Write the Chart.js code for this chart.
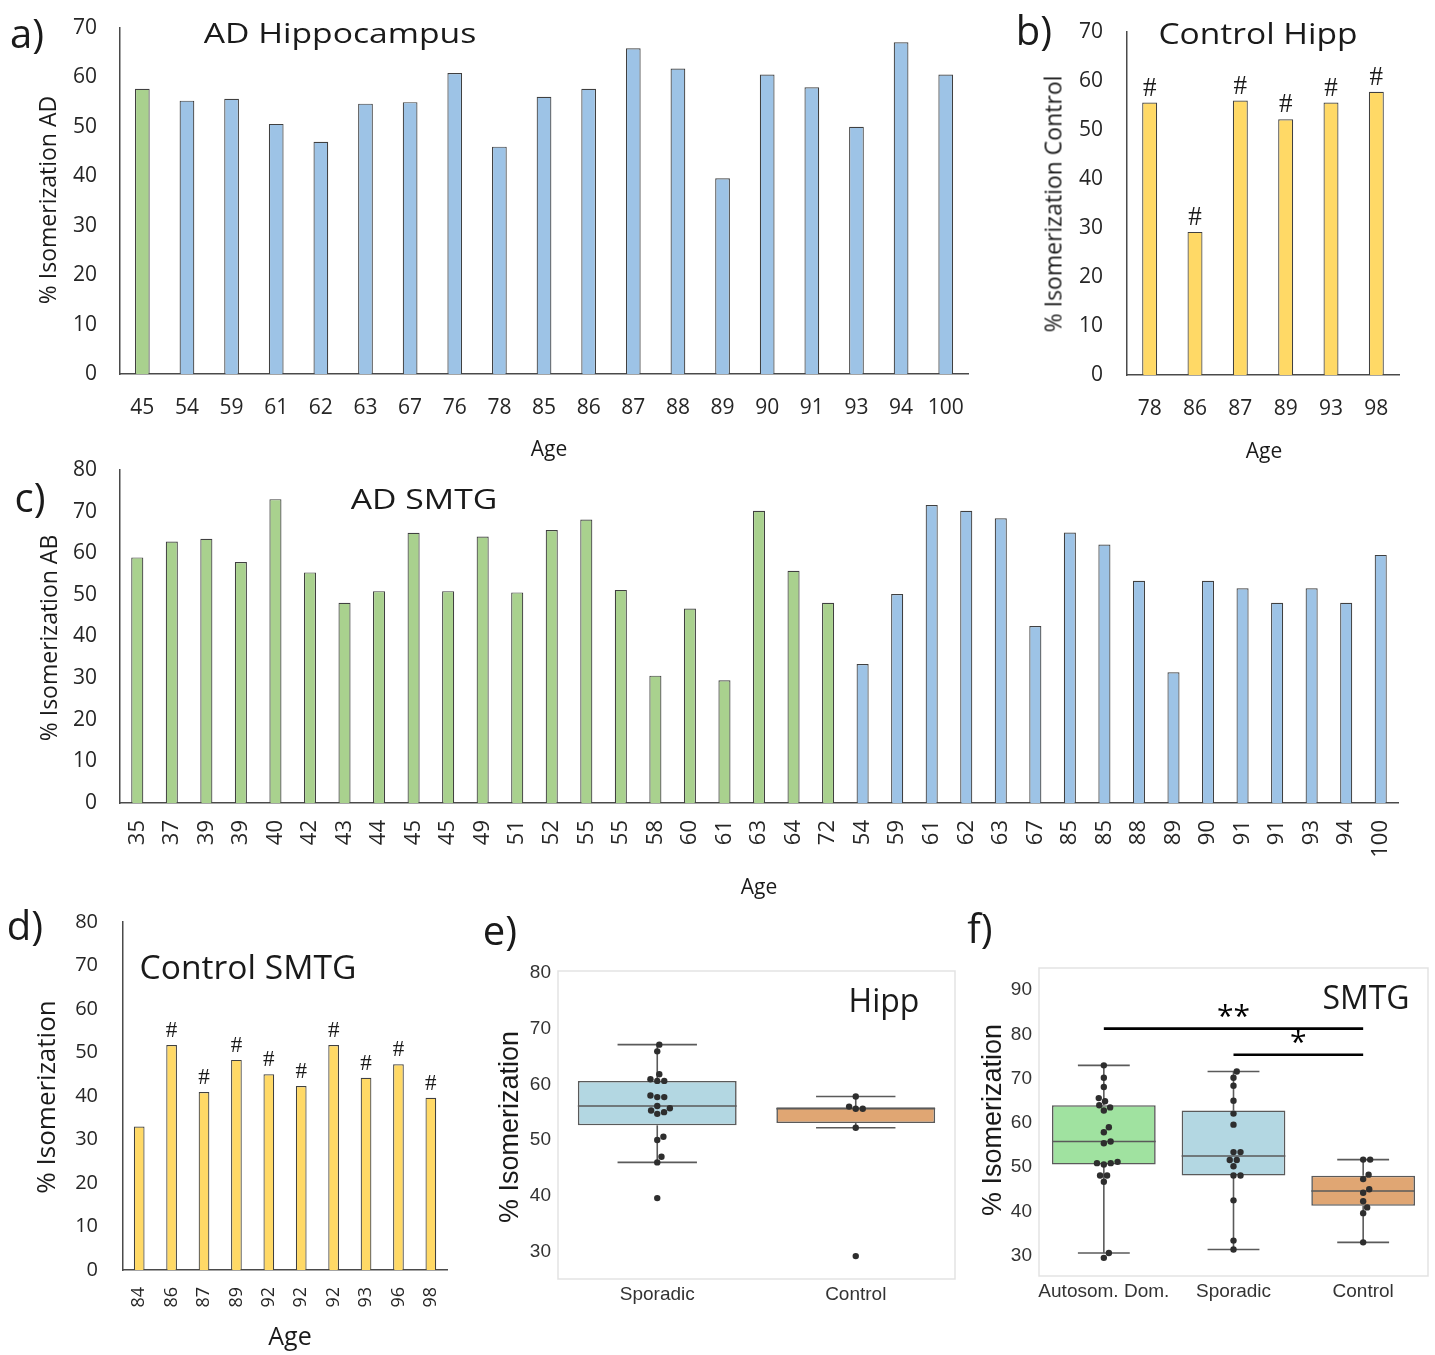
<!DOCTYPE html>
<html>
<head>
<meta charset="utf-8">
<script src="https://cdn.jsdelivr.net/npm/chart.js@4.4.1/dist/chart.umd.min.js"></script>
<style>
  body { margin: 0; background: #fff; width: 1435px; height: 1355px; position: relative; overflow: hidden; }
  canvas { position: absolute; }
  .txt { position: absolute; white-space: nowrap; line-height: 1; color: #1a1a1a; }
</style>
</head>
<body>
<canvas id="chartA" width="985" height="440" style="left:0;top:0"></canvas>
<canvas id="chartB" width="445" height="440" style="left:990px;top:0"></canvas>
<canvas id="chartC" width="1435" height="430" style="left:0;top:445px"></canvas>
<canvas id="chartD" width="470" height="420" style="left:0;top:905px"></canvas>
<canvas id="chartE" width="490" height="420" style="left:470px;top:905px"></canvas>
<canvas id="chartF" width="475" height="420" style="left:960px;top:905px"></canvas>
<script>
// a) AD hippocampus (A = autosomal dominant, S = sporadic)
const adHippAges = ["45","54","59","61","62","63","67","76","78","85","86","87","88","89","90","91","93","94","100"];
const adHippValues = [57.7,55.3,55.7,50.6,47.0,54.7,55.0,60.9,46.0,56.1,57.7,65.9,61.8,39.6,60.6,58.0,50.0,67.1,60.6];
const adHippGroups = ["A","S","S","S","S","S","S","S","S","S","S","S","S","S","S","S","S","S","S"];

// b) control hippocampus
const ctrlHippAges = ["78","86","87","89","93","98"];
const ctrlHippValues = [55.6,29.2,56.0,52.2,55.6,57.8];
const ctrlHippMarks = ["#","#","#","#","#","#"];

// c) AD SMTG
const adSmtgAges = ["35","37","39","39","40","42","43","44","45","45","49","51","52","55","55","58","60","61","63","64","72",
                    "54","59","61","62","63","67","85","85","88","89","90","91","91","93","94","100"];
const adSmtgValues = [59.0,62.8,63.5,57.9,73.0,55.4,48.1,50.9,64.9,50.9,64.0,50.6,65.6,68.1,51.2,30.6,46.7,29.5,70.2,55.8,48.1,
                      33.4,50.2,71.6,70.2,68.4,42.5,65.0,62.1,53.4,31.4,53.4,51.6,48.1,51.6,48.1,59.6];
const adSmtgGroups = "AAAAAAAAAAAAAAAAAAAAASSSSSSSSSSSSSSSS".split("");

// d) control SMTG
const ctrlSmtgAges = ["84","86","87","89","92","92","92","93","96","98"];
const ctrlSmtgValues = [33.0,51.7,40.9,48.3,45.0,42.3,51.7,44.2,47.3,39.6];
const ctrlSmtgMarks = ["","#","#","#","#","#","#","#","#","#"];

// e) / f) box plots
const hippCategories = ["Sporadic","Control"];
const smtgCategories = ["Autosom. Dom.","Sporadic","Control"];
const hippTicks = [30,40,50,60,70,80];
const smtgTicks = [30,40,50,60,70,80,90];
const sigLabels = ["**","*"];
const sigFrom = [0,1];
const sigTo = [2,2];
const sigLevel = [81.3,75.4];

const GREEN = "#a9d18e", BLUE = "#9dc3e6", YELLOW = "#ffd966";
const groupColor = g => g === "A" ? GREEN : BLUE;
const OPEN = '"Open Sans", sans-serif';
const ARIAL = '"Liberation Sans", Arial, sans-serif';

// "#" marks above bars
const hashPlugin = {
  id: "hashMarks",
  afterDatasetsDraw(chart, args, opts) {
    if (!opts.marks) return;
    const ctx = chart.ctx;
    const meta = chart.getDatasetMeta(0);
    ctx.save();
    ctx.font = opts.size + 'px "Liberation Serif", serif';
    ctx.fillStyle = "#1a1a1a";
    ctx.textAlign = "center";
    ctx.textBaseline = "alphabetic";
    meta.data.forEach((bar, i) => {
      if (opts.marks[i]) ctx.fillText(opts.marks[i], bar.x, bar.y - opts.gap);
    });
    ctx.restore();
  }
};

// y scale: fixed width, no extra top/bottom padding from the tick labels
const fixY = w => s => { s.width = w; s.paddingTop = 0; s.paddingBottom = 0; };

function makeBarChart(c) {
  const tickFont = { family: OPEN, size: c.tickSize };
  return new Chart(document.getElementById(c.id), {
    type: "bar",
    data: {
      labels: c.labels,
      datasets: [{
        data: c.values,
        backgroundColor: c.colors,
        borderColor: "#404040",
        borderWidth: 1.2,
        barPercentage: c.barPct,
        categoryPercentage: 1
      }]
    },
    options: {
      responsive: false,
      animation: false,
      layout: { padding: { top: c.top, right: c.right, left: 0, bottom: 0 } },
      plugins: {
        legend: { display: false },
        tooltip: { enabled: false },
        hashMarks: { marks: c.marks, size: c.hashSize, gap: c.hashGap }
      },
      scales: {
        x: {
          grid: { display: false, drawTicks: false },
          border: { color: "#4a4a4a", width: 1.5 },
          ticks: {
            font: { family: OPEN, size: c.xSize || c.tickSize }, color: "#262626",
            padding: c.xPad, autoSkip: false,
            minRotation: c.rot || 0, maxRotation: c.rot || 0
          },
          afterFit: s => { s.height = c.xH; }
        },
        y: {
          min: 0, max: c.yMax,
          grid: { display: false, drawTicks: false },
          border: { color: "#4a4a4a", width: 1.5 },
          ticks: { stepSize: 10, font: tickFont, color: "#262626", padding: c.yPad },
          afterFit: fixY(c.yW)
        }
      }
    },
    plugins: [hashPlugin]
  });
}

function quantile(sorted, p) {
  const pos = (sorted.length - 1) * p, lo = Math.floor(pos), hi = Math.ceil(pos);
  return sorted[lo] + (sorted[hi] - sorted[lo]) * (pos - lo);
}
function boxStats(vals) {
  const s = [...vals].sort((a, b) => a - b);
  const q1 = quantile(s, 0.25), q3 = quantile(s, 0.75), med = quantile(s, 0.5);
  const iqr = q3 - q1;
  const lo = s.find(v => v >= q1 - 1.5 * iqr);
  const hi = [...s].reverse().find(v => v <= q3 + 1.5 * iqr);
  return { q1, q3, med, lo, hi };
}

// whiskers, medians, swarm points, frame, significance bars
const boxPlugin = {
  id: "boxExtras",
  beforeDatasetsDraw(chart) {
    const { ctx, chartArea: a } = chart;
    ctx.save();
    ctx.strokeStyle = "#e3e3e3";
    ctx.lineWidth = 1.5;
    ctx.strokeRect(a.left, a.top, a.right - a.left, a.bottom - a.top);
    ctx.restore();
  },
  afterDatasetsDraw(chart, args, opts) {
    const { ctx, scales: { x, y } } = chart;
    const meta = chart.getDatasetMeta(0);
    const line = (x1, y1, x2, y2) => { ctx.beginPath(); ctx.moveTo(x1, y1); ctx.lineTo(x2, y2); ctx.stroke(); };
    ctx.save();
    opts.groups.forEach((vals, i) => {
      const st = boxStats(vals);
      const bar = meta.data[i];
      const cx = bar.x, half = bar.width / 2;
      ctx.strokeStyle = "#5a5a5a";
      ctx.lineWidth = 1.6;
      line(cx, y.getPixelForValue(st.lo), cx, y.getPixelForValue(st.q1));
      line(cx, y.getPixelForValue(st.q3), cx, y.getPixelForValue(st.hi));
      line(cx - half / 2, y.getPixelForValue(st.lo), cx + half / 2, y.getPixelForValue(st.lo));
      line(cx - half / 2, y.getPixelForValue(st.hi), cx + half / 2, y.getPixelForValue(st.hi));
      line(cx - half, y.getPixelForValue(st.med), cx + half, y.getPixelForValue(st.med));
      // swarm layout of the points
      const r = 3.2, dia = 2 * r + 0.6;
      const pts = vals.map(v => ({ py: y.getPixelForValue(v) })).sort((p, q) => q.py - p.py);
      const placed = [];
      pts.forEach(p => {
        const cands = [0];
        placed.forEach(q => {
          const dy = Math.abs(q.py - p.py);
          if (dy < dia) { const dx = Math.sqrt(dia * dia - dy * dy); cands.push(q.dx + dx, q.dx - dx); }
        });
        cands.sort((m, n) => Math.abs(m) - Math.abs(n));
        const ok = cands.find(c => placed.every(q => Math.hypot(q.dx - c, q.py - p.py) >= dia - 0.01));
        placed.push({ py: p.py, dx: ok });
      });
      ctx.fillStyle = "#2e2e2e";
      placed.forEach(p => { ctx.beginPath(); ctx.arc(cx + p.dx, p.py, r, 0, Math.PI * 2); ctx.fill(); });
    });
    if (opts.sig) {
      ctx.strokeStyle = "#000";
      ctx.fillStyle = "#000";
      ctx.lineWidth = 2.6;
      ctx.font = '30px ' + OPEN;
      ctx.textAlign = "center";
      ctx.textBaseline = "alphabetic";
      opts.sig.labels.forEach((lab, k) => {
        const x1 = meta.data[opts.sig.from[k]].x, x2 = meta.data[opts.sig.to[k]].x;
        const py = y.getPixelForValue(opts.sig.level[k]);
        line(x1, py, x2, py);
        ctx.fillText(lab, (x1 + x2) / 2, py - 3);
      });
    }
    ctx.restore();
  }
};

function makeBoxChart(c) {
  const stats = c.groups.map(boxStats);
  return new Chart(document.getElementById(c.id), {
    type: "bar",
    data: {
      labels: c.categories,
      datasets: [{
        data: stats.map(s => [s.q1, s.q3]),
        backgroundColor: c.colors,
        borderColor: "#5a5a5a",
        borderWidth: 1.6,
        borderSkipped: false,
        barPercentage: 0.8,
        categoryPercentage: 1
      }]
    },
    options: {
      responsive: false,
      animation: false,
      layout: { padding: { top: c.top, right: c.right, left: 0, bottom: 0 } },
      plugins: {
        legend: { display: false },
        tooltip: { enabled: false },
        boxExtras: { groups: c.groups, sig: c.sig }
      },
      scales: {
        x: {
          grid: { display: false, drawTicks: false },
          border: { display: false },
          ticks: { font: { family: ARIAL, size: 19 }, color: "#333", padding: 4, autoSkip: false, minRotation: 0, maxRotation: 0 },
          afterFit: s => { s.height = c.xH; }
        },
        y: {
          min: c.yMin, max: c.yMax,
          grid: { display: false, drawTicks: false },
          border: { display: false },
          ticks: { font: { family: ARIAL, size: 19 }, color: "#333", padding: 7 },
          afterBuildTicks: s => { s.ticks = c.ticks.map(v => ({ value: v })); },
          afterFit: fixY(c.yW)
        }
      }
    },
    plugins: [boxPlugin]
  });
}

makeBarChart({ id: "chartA", labels: adHippAges, values: adHippValues, colors: adHippGroups.map(groupColor),
  barPct: 0.33, top: 28, right: 10, yW: 120, xH: 66, yMax: 70, tickSize: 21, xPad: 21, yPad: 23 });
makeBarChart({ id: "chartB", labels: ctrlHippAges, values: ctrlHippValues, colors: YELLOW, marks: ctrlHippMarks,
  hashSize: 27, hashGap: 7, barPct: 0.33, top: 32, right: 36, yW: 137, xH: 65, yMax: 70, tickSize: 21, xPad: 21, yPad: 24 });
makeBarChart({ id: "chartC", labels: adSmtgAges, values: adSmtgValues, colors: adSmtgGroups.map(groupColor),
  barPct: 0.35, top: 25, right: 37, yW: 120, xH: 72, yMax: 80, tickSize: 21, xSize: 22, rot: 90, xPad: 17, yPad: 23 });
makeBarChart({ id: "chartD", labels: ctrlSmtgAges, values: ctrlSmtgValues, colors: YELLOW, marks: ctrlSmtgMarks,
  hashSize: 23, hashGap: 8, barPct: 0.33, top: 17, right: 11, yW: 123, xH: 55, yMax: 80, tickSize: 20, xSize: 18, rot: 90, xPad: 17, yPad: 25 });

makeBoxChart({ id: "chartE", categories: hippCategories, groups: [adHippValues, ctrlHippValues],
  colors: ["#b3d7e2", "#e0a673"], yMin: 25.1, yMax: 80.3, ticks: hippTicks, top: 66, right: 5, yW: 88, xH: 46 });
makeBoxChart({ id: "chartF", categories: smtgCategories,
  groups: [adSmtgValues.filter((v, i) => adSmtgGroups[i] === "A"), adSmtgValues.filter((v, i) => adSmtgGroups[i] === "S"), ctrlSmtgValues],
  colors: ["#a0e2a0", "#b3d7e2", "#e0a673"], yMin: 25.4, yMax: 95.0, ticks: smtgTicks, top: 63, right: 7, yW: 79, xH: 49,
  sig: { labels: sigLabels, from: sigFrom, to: sigTo, level: sigLevel } });

// text overlays: panel letters, titles, axis titles
function addText(txt, cx, cy, size, o = {}) {
  const d = document.createElement("div");
  d.className = "txt";
  d.textContent = txt;
  d.style.left = cx + "px";
  d.style.top = cy + "px";
  d.style.fontSize = size + "px";
  d.style.fontFamily = o.family || OPEN;
  document.body.appendChild(d);
  let t = "translate(-50%,-50%)";
  if (o.rotate) t += " rotate(-90deg)";
  if (o.width) t += " scaleX(" + (o.width / d.offsetWidth).toFixed(3) + ")";
  d.style.transform = t;
}

addText("a)", 27, 33, 40);
addText("AD Hippocampus", 340, 32, 28, { width: 273 });
addText("% Isomerization AD", 47, 200, 23, { rotate: true });
addText("Age", 549, 448, 21);

addText("b)", 1034, 30, 40);
addText("Control Hipp", 1258, 33, 30, { width: 199 });
addText("% Isomerization Control", 1053, 204, 23, { rotate: true });
addText("Age", 1264, 450, 21);

addText("c)", 30, 497, 40);
addText("AD SMTG", 424, 498, 28, { width: 147 });
addText("% Isomerization AB", 48, 638, 23, { rotate: true });
addText("Age", 759, 886, 21);

addText("d)", 25, 925, 40);
addText("Control SMTG", 248, 966, 33, { width: 217 });
addText("% Isomerization", 45, 1097, 26, { rotate: true });
addText("Age", 290, 1335, 25);

addText("e)", 500, 930, 40);
addText("Hipp", 884, 1000, 32);
addText("% Isomerization", 509, 1127, 27, { rotate: true, family: ARIAL });

addText("f)", 980, 928, 40);
addText("SMTG", 1366, 997, 32);
addText("% Isomerization", 992, 1120, 27, { rotate: true, family: ARIAL });
</script>
</body>
</html>
